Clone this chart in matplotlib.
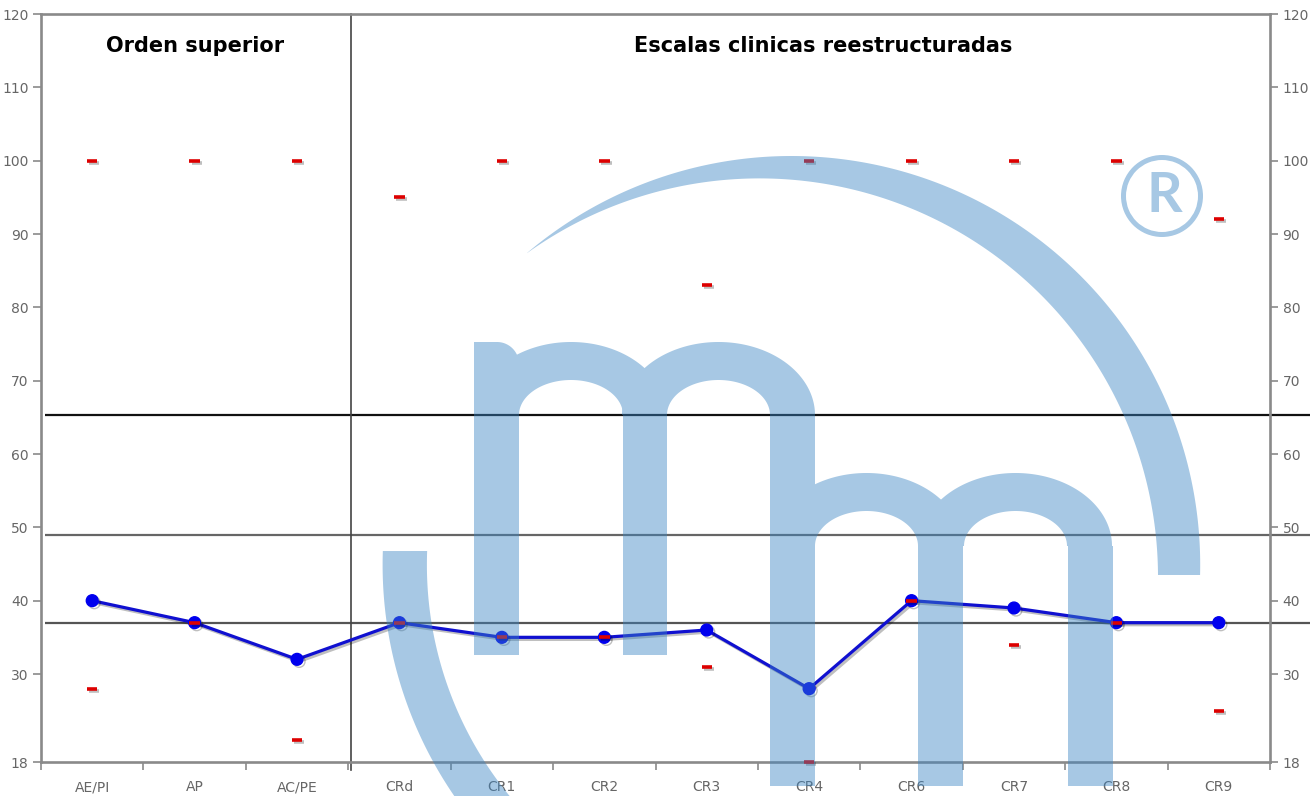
import numpy as np
import matplotlib
matplotlib.use('Agg')
import matplotlib.pyplot as plt
from matplotlib.figure import Figure
from matplotlib.backends.backend_agg import FigureCanvasAgg
from matplotlib.patches import Polygon, Wedge
import matplotlib.patheffects as pe

W, H = 1316, 796

# ---------------- data ----------------
categories = ['AE/PI', 'AP', 'AC/PE', 'CRd', 'CR1', 'CR2', 'CR3', 'CR4',
              'CR6', 'CR7', 'CR8', 'CR9']
scores = [40, 37, 32, 37, 35, 35, 36, 28, 40, 39, 37, 37]
max_vals = [100, 100, 100, 95, 100, 100, 83, 100, 100, 100, 100, 92]
min_vals = [28, 37, 21, 37, 35, 35, 31, 18, 40, 34, 37, 25]
ref_lines = [65.3, 49, 37]
ref_colors = ['#111111', '#666666', '#555555']
group_titles = ['Orden superior', 'Escalas clinicas reestructuradas']
group_title_x = [1.0, 7.14]
y_ticks = [18, 30, 40, 50, 60, 70, 80, 90, 100, 110, 120]


# ---------------- watermark (decoration) ----------------
def arc_pts(h, k, r, t0, t1, n=240):
    t = np.radians(np.linspace(t0, t1, n))
    return np.column_stack([h + r * np.cos(t), k - r * np.sin(t)])


def ell_pts(cx, cy, rx, ry, t0, t1, n=160):
    t = np.radians(np.linspace(t0, t1, n))
    return np.column_stack([cx + rx * np.cos(t), cy - ry * np.sin(t)])


def build_watermark():
    wf = Figure(figsize=(W / 100, H / 100), dpi=100)
    FigureCanvasAgg(wf)
    wa = wf.add_axes([0, 0, 1, 1])
    wa.set_xlim(0, W)
    wa.set_ylim(H, 0)
    wa.axis('off')
    k = 'black'
    # crescent
    outer = arc_pts(791.4, 564.8, 408.8, 130.3, -1.43)
    inner = arc_pts(759.4, 577.0, 398.6, 0.29, 125.65)
    wa.add_patch(Polygon(np.vstack([outer, inner]), closed=True, fc=k, ec='none'))
    # lower-left arc
    o = arc_pts(791.4, 564.8, 408.8, 178.07, 240)
    i = arc_pts(791.4, 564.8, 364.5, 240, 177.83)
    wa.add_patch(Polygon(np.vstack([o, i]), closed=True, fc=k, ec='none'))
    # humps of the two "m"
    for cx, cy, rxo, rxi in [(571, 415, 96, 52), (718.5, 415, 96.5, 51.5),
                             (866.5, 546, 96.5, 51.5), (1015.5, 546, 96.5, 51.5)]:
        o = ell_pts(cx, cy, rxo, 73, 180, 0)
        i = ell_pts(cx, cy, rxi, 35, 0, 180)
        wa.add_patch(Polygon(np.vstack([o, i]), closed=True, fc=k, ec='none'))
    # first stem with rounded shoulder
    corner = arc_pts(497, 364, 22, 90, 0, 40)
    stem = np.vstack([[[474, 655], [474, 342]], corner, [[519, 655]]])
    wa.add_patch(Polygon(stem, closed=True, fc=k, ec='none'))
    for x0, y0, x1, y1 in [(623, 415, 667, 655), (770, 415, 815, 786),
                           (918, 546, 963, 786), (1068, 546, 1113, 786)]:
        wa.add_patch(Polygon([[x0, y0], [x1, y0], [x1, y1], [x0, y1]],
                             closed=True, fc=k, ec='none'))
    # registered sign
    wa.add_patch(Wedge((1162, 196), 41, 0, 360, width=5, fc=k, ec='none'))
    wa.text(1164, 196, 'R', ha='center', va='center', fontsize=40,
            fontweight='bold', family=['Lato', 'DejaVu Sans'], color=k)
    wf.canvas.draw()
    buf = np.asarray(wf.canvas.buffer_rgba()).astype(float)
    mask = 1.0 - buf[..., 0] / 255.0
    rgba = np.zeros((buf.shape[0], buf.shape[1], 4))
    rgba[..., 0] = 59 / 255
    rgba[..., 1] = 133 / 255
    rgba[..., 2] = 195 / 255
    rgba[..., 3] = 0.45 * mask
    return rgba


# ---------------- main chart ----------------
fig = plt.figure(figsize=(W / 100, H / 100), dpi=100, facecolor='white')
ax = fig.add_axes([41 / W, 34 / H, 1229 / W, 748 / H], zorder=1)
ax.set_facecolor('white')
x = np.arange(len(categories))
ax.set_xlim(-0.5, len(categories) - 0.5)
ax.set_ylim(18, 120)

# reference lines (extend beyond the plot frame)
for v, c in zip(ref_lines, ref_colors):
    ax.plot([-0.46, 11.89], [v, v], color=c, lw=1.6, clip_on=False, zorder=2,
            solid_capstyle='butt')

# group divider
ax.plot([2.53, 2.53], [16.9, 120], color='#444444', lw=1.2, clip_on=False, zorder=2)

shadow = [pe.SimpleLineShadow(offset=(1.5, -1.5), alpha=0.25), pe.Normal()]
ax.plot(x, scores, color='#1010d0', lw=2.3, zorder=4, path_effects=shadow)
ax.plot(x, scores, 'o', color='#0000ee', ms=8.5, zorder=5,
        path_effects=shadow)
ax.plot(x, max_vals, '_', color='#dd0000', ms=7.5, mew=2.6, zorder=6,
        clip_on=False, path_effects=shadow)
ax.plot(x, min_vals, '_', color='#dd0000', ms=7.5, mew=2.6, zorder=6,
        clip_on=False, path_effects=shadow)

for t, gx in zip(group_titles, group_title_x):
    ax.text(gx, 115.6, t, ha='center', va='center', fontsize=15,
            fontweight='bold', color='#000000', family='DejaVu Sans')

# axes styling
for s in ax.spines.values():
    s.set_color('#8a8a8a')
    s.set_linewidth(1.9)
ax.set_yticks(y_ticks)
ax.set_yticklabels([str(v) for v in y_ticks])
ax.tick_params(axis='y', which='both', left=True, right=True, labelleft=True,
               labelright=True, direction='out', length=5.5, width=1.2,
               color='#8a8a8a', labelcolor='#666666', labelsize=10, pad=3.5)
ax.set_xticks(x)
ax.set_xticklabels(categories)
ax.set_xticks(np.arange(-0.5, len(categories), 1.0), minor=True)
ax.tick_params(axis='x', which='major', length=0, pad=13, labelcolor='#666666',
               labelsize=10)
ax.tick_params(axis='x', which='minor', length=5.5, width=1.2, color='#8a8a8a',
               direction='out')

# watermark overlay
ov = fig.add_axes([0, 0, 1, 1], zorder=10)
ov.imshow(build_watermark(), extent=(0, W, H, 0), interpolation='nearest',
          aspect='auto')
ov.set_xlim(0, W)
ov.set_ylim(H, 0)
ov.axis('off')

fig.savefig('out.png', dpi=100, facecolor='white')
